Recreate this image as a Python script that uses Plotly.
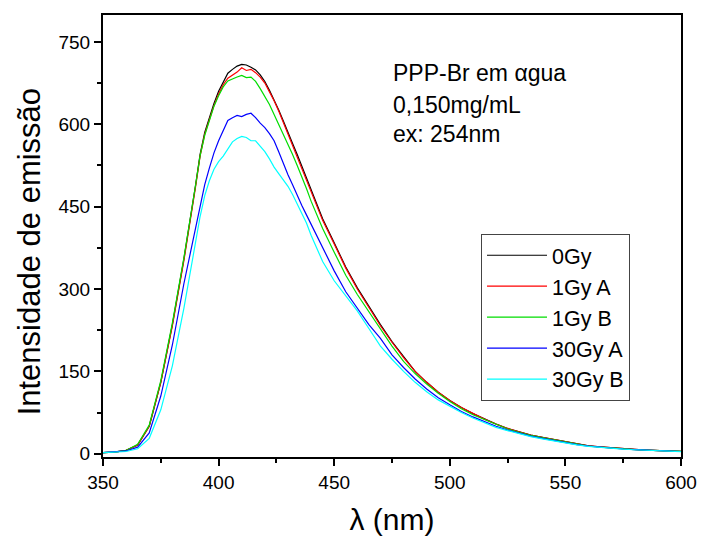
import plotly.graph_objects as go

wavelength = [350, 355, 360, 365, 370, 375, 380, 385,
              390, 392, 394, 396, 398, 400, 402, 404, 406, 408, 410, 412, 414, 416, 418, 420,
              422, 424, 426, 428, 430, 432, 434, 436, 438, 440,
              445, 450, 455, 460, 465, 470, 475, 480, 485, 490, 495, 500, 505, 510, 515,
              520, 525, 530, 535, 540, 545, 550, 555, 560, 565, 570, 575, 580, 585, 590, 595, 600]

gy0 = [2, 3, 6, 16, 50, 130, 235, 355,
       488, 545, 585, 613, 638, 660, 676, 693, 700, 706, 709, 708, 704, 699, 690, 678,
       662, 645, 626, 606, 587, 565, 545, 524, 503, 480,
       428, 384, 340, 302, 268, 235, 204, 176, 150, 130, 112, 97, 84, 73, 63,
       54, 46, 40, 34, 30, 26, 22, 17.5, 14.5, 12.5, 10.5, 9, 7.8, 6.7, 5.7, 4.9, 4.2]
gy1a = [2, 3, 6, 16, 50, 130, 233, 352,
        485, 542, 582, 610, 634, 655, 672, 684, 690, 695, 703, 698, 700, 694, 686, 675,
        659, 643, 624, 603, 584, 563, 543, 522, 500, 478,
        425, 382, 338, 300, 266, 233, 203, 175, 150, 130, 112, 97, 84, 73, 63,
        54, 46, 40, 34, 30, 26, 22, 17.5, 14.5, 12.5, 10.5, 9, 7.8, 6.7, 5.7, 4.9, 4.2]
gy1b = [2, 3, 6, 17, 52, 133, 238, 357,
        488, 543, 580, 607, 633, 652, 668, 679, 683, 686, 689, 685, 686, 678, 665, 650,
        636, 618, 600, 584, 565, 545, 525, 505, 483, 460,
        410, 367, 325, 290, 258, 226, 196, 168, 146, 127, 110, 95, 82, 71, 62,
        53, 45, 39, 33.5, 29.5, 25.5, 21.5, 17, 14, 12, 10.2, 8.8, 7.6, 6.5, 5.6, 4.8, 4.1]
gy30a = [2, 3, 5, 12, 38, 105, 198, 310,
         412, 452, 490, 520, 548, 570, 590, 607, 612, 616, 614, 618, 620, 612, 602, 594,
         583, 570, 550, 528, 508, 490, 470, 452, 435, 418,
         373, 333, 295, 265, 235, 210, 180, 157, 136, 118, 102, 89, 77, 67, 58,
         50, 43, 37, 32, 28, 24, 20, 16.5, 13.8, 11.8, 10, 8.6, 7.4, 6.3, 5.4, 4.6, 4]
gy30b = [2, 2.5, 4, 9, 28, 80, 160, 265,
         390, 432, 470, 497, 518, 532, 542, 555, 568, 574, 578, 576, 570, 570, 560, 550,
         537, 522, 510, 499, 487, 472, 455, 440, 420, 398,
         350, 315, 288, 260, 228, 196, 172, 150, 130, 113, 98, 86, 75, 65, 56,
         48, 42, 36, 31, 27, 23, 19.5, 16, 13.5, 11.5, 9.8, 8.4, 7.2, 6.2, 5.3, 4.5, 3.9]

series_names = ["0Gy", "1Gy A", "1Gy B", "30Gy A", "30Gy B"]
series_values = [gy0, gy1a, gy1b, gy30a, gy30b]
series_colors = ["#000000", "#ff0000", "#00dd00", "#0000ff", "#00ffff"]

x_ticks = [350, 400, 450, 500, 550, 600]
y_ticks = [0, 150, 300, 450, 600, 750]
info_lines = ["PPP-Br em αgua", "0,150mg/mL", "ex: 254nm"]
y_title = "Intensidade de emissão"
x_title = "λ (nm)"

FONT = "Liberation Sans, Arial, sans-serif"

fig = go.Figure()
for name, vals, col in zip(series_names, series_values, series_colors):
    fig.add_trace(go.Scatter(x=wavelength, y=vals, mode="lines", name=name,
                             line=dict(color=col, width=1.2)))

axis_common = dict(showline=True, linecolor="black", linewidth=2, mirror=True,
                   ticks="outside", ticklen=7, tickwidth=1.5, tickcolor="black",
                   showgrid=False, zeroline=False, automargin=False,
                   tickfont=dict(family=FONT, size=19, color="black"))

fig.update_xaxes(range=[350, 600], tickvals=x_ticks,
                 minor=dict(dtick=25, ticks="outside", ticklen=4, tickwidth=1.5, tickcolor="black"),
                 title=dict(text=x_title, font=dict(family=FONT, size=30, color="black"), standoff=17),
                 **axis_common)
fig.update_yaxes(range=[-6, 799], tickvals=y_ticks,
                 minor=dict(dtick=75, tick0=0, ticks="outside", ticklen=4, tickwidth=1.5, tickcolor="black"),
                 **axis_common)

# rotated y-axis title, placed like the reference
fig.add_annotation(text=y_title, x=-0.128, y=0.463, xref="paper", yref="paper",
                   xanchor="center", yanchor="middle", textangle=-90, showarrow=False,
                   font=dict(family=FONT, size=31, color="black"))

ys = [0.869, 0.796, 0.731]
for txt, yy in zip(info_lines, ys):
    fig.add_annotation(text=txt, x=0.4985, y=yy, xref="paper", yref="paper",
                       xanchor="left", yanchor="middle", showarrow=False, align="left",
                       font=dict(family=FONT, size=23, color="black"))

fig.update_layout(
    width=701, height=544,
    margin=dict(l=103, r=20, t=15, b=87, autoexpand=False),
    paper_bgcolor="white", plot_bgcolor="white",
    legend=dict(x=0.654, y=0.505, xanchor="left", yanchor="top",
                bgcolor="white", bordercolor="#444444", borderwidth=1,
                font=dict(family=FONT, size=21.5, color="black"),
                itemwidth=60, tracegroupgap=0),
    showlegend=True,
)

fig.write_html("out.html")
